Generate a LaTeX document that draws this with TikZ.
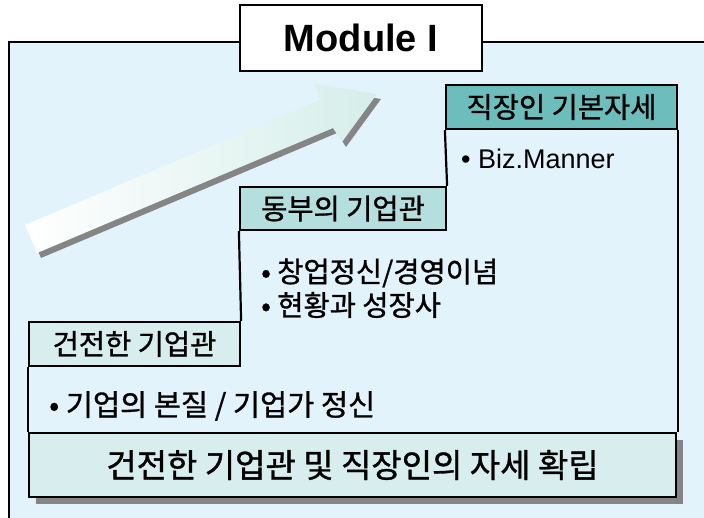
\documentclass[tikz,border=0pt]{standalone}
\usepackage{fontspec}
\setmainfont{Liberation Sans}
\newfontfamily\kr[FakeBold=1]{Noto Sans CJK KR}
\definecolor{bgblue}{HTML}{E3F3FC}
\definecolor{tealA}{HTML}{6DBDBD}
\definecolor{tealB}{HTML}{B5DEDE}
\definecolor{tealC}{HTML}{D8EDED}
\definecolor{shadowgray}{HTML}{858585}
\definecolor{arrowmint}{HTML}{D5EEEA}
\tikzset{
  hdr/.style={draw=black, line width=2.2pt, inner sep=0pt, font=\kr\fontsize{28.5}{32}\selectfont},
  bullet/.style={anchor=west, inner sep=0pt, font=\kr\fontsize{28.5}{32}\selectfont},
  stairline/.style={draw=black, line width=2.2pt}
}
\begin{document}
\begin{tikzpicture}[x=1pt, y=-1pt]
\useasboundingbox (0,0) rectangle (704,518);
% outer frame
\fill[white] (0,0) rectangle (704,518);
\filldraw[fill=bgblue, draw=black, line width=2.8pt] (9,530) -- (9,42) -- (720,42) -- (720,530) -- cycle;
% arrow shadow
\fill[shadowgray, shift={(4,5)}] (25,225) -- (320,100) -- (315,84) -- (377,94) -- (342,142) -- (333,128) -- (37,253) -- cycle;
% arrow
\shade[left color=white, right color=arrowmint] (25,225) -- (320,100) -- (315,84) -- (377,94) -- (342,142) -- (333,128) -- (37,253) -- cycle;
% module title
\node[draw=black, line width=2.2pt, fill=white, minimum width=242pt, minimum height=66pt, inner sep=0pt, font=\bfseries\fontsize{38}{44}\selectfont] (mod) at (361,38) {Module I};
% step headers
\node[hdr, fill=tealA, minimum width=231pt, minimum height=44pt] (h3) at (561.5,107) {직장인 기본자세};
\node[hdr, fill=tealB, minimum width=206pt, minimum height=43pt] (h2) at (343,208.5) {동부의 기업관};
\node[hdr, fill=tealC, minimum width=211pt, minimum height=44pt] (h1) at (134.5,344) {건전한 기업관};
% bottom box shadow and box
\fill[shadowgray] (36,440) rectangle (683,504);
\node[draw=black, line width=2.2pt, fill=tealC, minimum width=647pt, minimum height=64pt, inner sep=0pt, font=\kr\fontsize{33}{38}\selectfont] (base) at (352.5,465) {건전한 기업관 및 직장인의 자세 확립};
% staircase outline
\path[stairline] (h1.south west) -- (h1.south west |- base.north);
\path[stairline] (h1.north east) -- (h2.south west);
\path[stairline] (h2.north east) -- (h3.south west);
\path[stairline] (h3.south east) -- (h3.south east |- base.north);
% bullet texts
\node[bullet, font=\fontsize{27}{30}\selectfont] (t3) at (461,159) {• Biz.Manner};
\node[bullet] (t2a) at (261,273) {• 창업정신/경영이념};
\node[bullet] (t2b) at (261,305) {• 현황과 성장사};
\node[bullet, font=\kr\fontsize{29.5}{33}\selectfont] (t1) at (49,406) {• 기업의 본질 / 기업가 정신};
\end{tikzpicture}
\end{document}
